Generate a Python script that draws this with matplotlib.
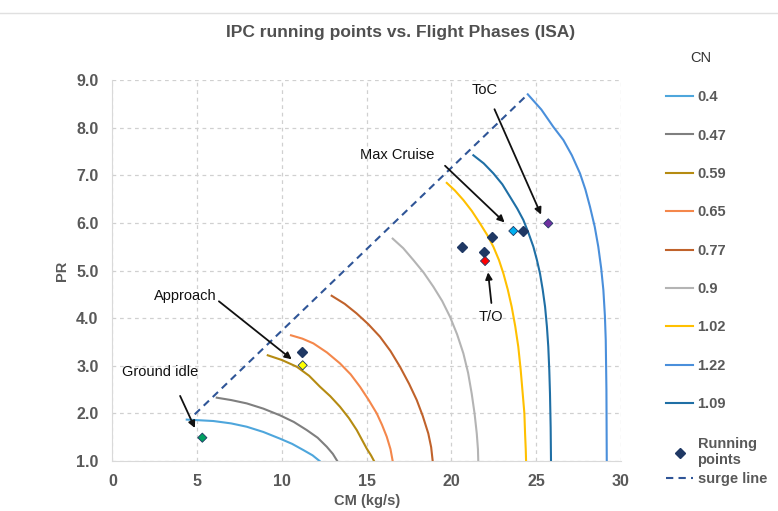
import matplotlib.pyplot as plt
from matplotlib.lines import Line2D

plt.rcParams['font.family'] = ['Liberation Sans', 'DejaVu Sans']

# speed lines (CN)
cn_labels = ["0.4", "0.47", "0.59", "0.65", "0.77", "0.9", "1.02", "1.22", "1.09"]
cn_colors = ["#4EA6DC", "#7F7F7F", "#B58B12", "#F4874B", "#C0622B",
             "#B4B4B4", "#FFC000", "#4A8FDB", "#1F6FA5"]

cm_04 = [4.38, 5.95, 7.0, 7.92, 8.9, 9.88, 10.6, 11.26, 11.8, 12.22]
pr_04 = [1.87, 1.84, 1.79, 1.72, 1.61, 1.47, 1.36, 1.23, 1.12, 1.0]
cm_047 = [6.15, 7.0, 7.92, 8.9, 9.88, 10.7, 11.46, 12.1, 12.64, 13.0, 13.26]
pr_047 = [2.33, 2.28, 2.21, 2.10, 1.96, 1.82, 1.65, 1.49, 1.30, 1.15, 1.0]
cm_059 = [9.16, 10.0, 10.87, 11.6, 12.24, 12.85, 13.42, 13.95, 14.41, 15.0, 15.25, 15.43]
pr_059 = [3.22, 3.12, 2.98, 2.79, 2.56, 2.36, 2.14, 1.90, 1.65, 1.26, 1.12, 1.0]
cm_065 = [10.53, 11.2, 11.85, 12.65, 13.42, 14.05, 14.6, 15.1, 15.59, 15.9, 16.18, 16.4, 16.53]
pr_065 = [3.64, 3.57, 3.47, 3.28, 3.05, 2.82, 2.56, 2.29, 2.00, 1.76, 1.51, 1.25, 1.0]
cm_077 = [12.93, 13.7, 14.4, 15.1, 15.78, 16.4, 16.96, 17.5, 17.95, 18.3, 18.63, 18.8, 18.89]
pr_077 = [4.47, 4.30, 4.10, 3.87, 3.61, 3.31, 2.98, 2.62, 2.28, 1.95, 1.58, 1.29, 1.0]
cm_090 = [16.53, 17.15, 17.75, 18.35, 18.93, 19.45, 19.91, 20.33, 20.7, 20.98, 21.19, 21.36, 21.49, 21.56, 21.58]
pr_090 = [5.67, 5.47, 5.22, 4.96, 4.66, 4.36, 4.03, 3.66, 3.26, 2.85, 2.42, 2.00, 1.58, 1.25, 1.0]
cm_102 = [19.72, 20.2, 20.7, 21.2, 21.68, 22.1, 22.47, 22.8, 23.06, 23.32, 23.55, 23.76, 23.94, 24.08, 24.2, 24.3, 24.34, 24.38, 24.4]
pr_102 = [6.84, 6.68, 6.48, 6.25, 5.99, 5.75, 5.50, 5.22, 4.94, 4.60, 4.24, 3.83, 3.40, 2.92, 2.42, 2.00, 1.58, 1.25, 1.0]
cm_122 = [24.5, 25.3, 26.0, 26.6, 27.1, 27.58, 27.9, 28.17, 28.45, 28.66, 28.83, 28.96, 29.05, 29.1, 29.14, 29.16]
pr_122 = [8.70, 8.38, 8.02, 7.74, 7.42, 7.04, 6.70, 6.34, 5.92, 5.50, 5.05, 4.59, 4.05, 3.54, 2.50, 1.0]
cm_109 = [21.29, 21.9, 22.47, 23.0, 23.45, 23.88, 24.24, 24.55, 24.83, 25.04, 25.22, 25.38, 25.52, 25.63, 25.71, 25.77, 25.81, 25.85, 25.87]
pr_109 = [7.42, 7.25, 7.04, 6.81, 6.55, 6.30, 6.06, 5.78, 5.50, 5.22, 4.94, 4.60, 4.24, 3.82, 3.40, 2.90, 2.42, 1.70, 1.0]

cn_cm = [cm_04, cm_047, cm_059, cm_065, cm_077, cm_090, cm_102, cm_122, cm_109]
cn_pr = [pr_04, pr_047, pr_059, pr_065, pr_077, pr_090, pr_102, pr_122, pr_109]

# surge line
surge_cm = [4.85, 24.5]
surge_pr = [1.98, 8.70]

# running points
run_cm = [11.2, 20.62, 21.92, 22.41, 24.24]
run_pr = [3.29, 5.49, 5.38, 5.70, 5.83]

# flight phase points
phase_cm = [5.3, 11.22, 21.98, 23.65, 25.71]
phase_pr = [1.49, 3.01, 5.20, 5.83, 5.99]
phase_colors = ["#00A060", "#FFFF00", "#FF0000", "#00B0F0", "#7030A0"]

# annotations: label, text pos, arrow tail, arrow head
notes = [
    ("ToC", (21.95, 8.79), (22.47, 8.44), (25.35, 6.12)),
    ("Max Cruise", (16.8, 7.42), (19.5, 7.24), (23.25, 5.97)),
    ("T/O", (22.3, 4.03), (22.37, 4.26), (22.14, 5.02)),
    ("Approach", (4.3, 4.46), (6.15, 4.39), (10.7, 3.10)),
    ("Ground idle", (2.8, 2.86), (3.92, 2.42), (4.93, 1.64)),
]

fig = plt.figure(figsize=(7.78, 5.11), dpi=100)
ax = fig.add_axes([0.1446, 0.0978, 0.6536, 0.7456])

handles = []
for lab, col, xs, ys in zip(cn_labels, cn_colors, cn_cm, cn_pr):
    h, = ax.plot(xs, ys, color=col, lw=1.5, label=lab, zorder=3)
    handles.append(h)

hs, = ax.plot(surge_cm, surge_pr, color="#2F5597", lw=1.5, ls=(0, (3.5, 2.5)),
              label="surge line", zorder=3)
hr, = ax.plot(run_cm, run_pr, ls="none", marker="D", ms=5, color="#1F3864",
              label="Running\npoints", zorder=5)
ax.scatter(phase_cm, phase_pr, marker="D", s=22, c=phase_colors,
           edgecolors="#1F3864", linewidths=0.6, zorder=6)

for lab, tpos, tail, head in notes:
    ax.text(tpos[0], tpos[1], lab, ha="center", va="center", fontsize=10.5,
            color="#111111")
    ax.annotate("", xy=head, xytext=tail,
                arrowprops=dict(arrowstyle="-|>", color="#111111", lw=1.3,
                                mutation_scale=10), zorder=7)

ax.set_xlim(0, 30)
ax.set_ylim(1, 9)
ax.set_xticks([0, 5, 10, 15, 20, 25, 30])
ax.set_yticks([1, 2, 3, 4, 5, 6, 7, 8, 9])
ax.set_yticklabels([f"{v:.1f}" for v in range(1, 10)])
ax.grid(True, color="#D0D0D0", ls=(0, (3, 3)), lw=0.9)
ax.set_axisbelow(True)
for s in ["top", "right"]:
    ax.spines[s].set_visible(False)
for s in ["left", "bottom"]:
    ax.spines[s].set_color("#D9D9D9")
ax.tick_params(length=0, labelsize=11.5, labelcolor="#595959")
ax.tick_params(axis="y", pad=10)
ax.tick_params(axis="x", pad=9)
for t in ax.get_xticklabels() + ax.get_yticklabels():
    t.set_fontweight("bold")

ax.set_xlabel("CM (kg/s)", fontsize=10.5, fontweight="bold", color="#595959",
              labelpad=4)
ax.set_ylabel("PR", fontsize=10.5, fontweight="bold", color="#595959",
              labelpad=5)

fig.text(0.515, 0.937, "IPC running points vs. Flight Phases (ISA)",
         ha="center", va="center", fontsize=12.5, fontweight="bold",
         color="#505050")
fig.add_artist(Line2D([0, 1], [1 - 13 / 511, 1 - 13 / 511], color="#E0E0E0",
                      lw=1))

# legend: CN lines
fig.text(701 / 778, 1 - 58 / 511, "CN", ha="center", va="center",
         fontsize=10.5, color="#333333")
leg = fig.legend(handles, cn_labels, loc="upper left",
                 bbox_to_anchor=(656 / 778, 1 - 80 / 511),
                 frameon=False, fontsize=10.5, labelspacing=1.67,
                 handlelength=1.85, handletextpad=0.3, borderpad=0.2)
for t in leg.get_texts():
    t.set_fontweight("bold")
    t.set_color("#595959")

# legend: running points and surge line
leg2 = fig.legend([hr, hs], ["Running\npoints", "surge line"], loc="upper left",
                  bbox_to_anchor=(656 / 778, 1 - 427 / 511),
                  frameon=False, fontsize=10.5, labelspacing=0.3,
                  handlelength=1.85, handletextpad=0.3, borderpad=0.2)
for t in leg2.get_texts():
    t.set_fontweight("bold")
    t.set_color("#595959")

fig.savefig("out.png", dpi=100)
